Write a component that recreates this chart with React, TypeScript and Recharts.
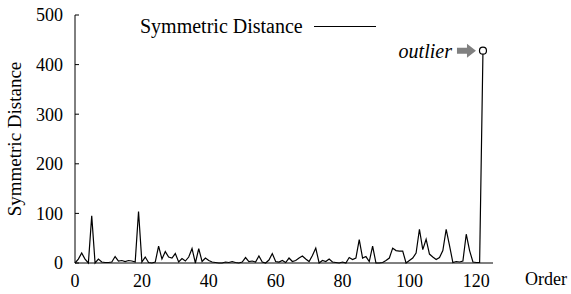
import { LineChart, Line, XAxis, YAxis, Legend } from 'recharts';

// symmetric distance per order
const distances = [
  0, 8, 20, 8, 0, 95, 0, 8, 2, 1,
  1, 2, 13, 4, 5, 3, 5, 4, 2, 104,
  2, 12, 1, 0, 2, 34, 8, 23, 12, 10,
  19, 2, 9, 4, 12, 29, 0, 29, 3, 10,
  5, 2, 1, 0, 0, 2, 1, 3, 1, 0,
  2, 11, 3, 4, 2, 14, 2, 0, 6, 19,
  3, 2, 5, 1, 10, 3, 5, 10, 14, 8,
  3, 15, 30, 0, 5, 3, 8, 2, 1, 0,
  2, 0, 11, 7, 10, 47, 10, 13, 3, 34,
  0, 0, 1, 5, 10, 30, 25, 24, 24, 0,
  5, 10, 20, 68, 27, 48, 18, 12, 7, 11,
  25, 68, 35, 1, 3, 2, 4, 58, 25, 2,
  1, 1, 428,
];
const xTicks = [0, 20, 40, 60, 80, 100, 120];
const yTicks = [0, 100, 200, 300, 400, 500];

const data = distances.map((d, i) => ({ order: i, dist: d }));
const outlierIndex = distances.length - 1;

const font = "'Liberation Serif', 'Times New Roman', serif";

function YTick(props: any) {
  const { x, y, payload } = props;
  return (
    <g>
      <line x1={x + 12} x2={x + 16} y1={y} y2={y} stroke="#000" />
      <text x={x} y={y} dy="0.35em" textAnchor="end" style={{ fontFamily: font, fontSize: 18 }} fill="#000">
        {payload.value}
      </text>
    </g>
  );
}

function OutlierDot(props: any) {
  const { cx, cy, index } = props;
  if (index !== outlierIndex) return <g key={`d-${index}`} />;
  return (
    <g key={`d-${index}`}>
      <text x={cx - 31} y={cy} dy="0.35em" textAnchor="end" style={{ fontFamily: font, fontSize: 20, fontStyle: 'italic' }} fill="#000">
        outlier
      </text>
      <polygon
        points={`${cx - 26},${cy - 3} ${cx - 16},${cy - 3} ${cx - 16},${cy - 7} ${cx - 7},${cy} ${cx - 16},${cy + 7} ${cx - 16},${cy + 3} ${cx - 26},${cy + 3}`}
        fill="#808080"
      />
      <circle cx={cx} cy={cy} r={3.5} fill="#fff" stroke="#000" strokeWidth={1.2} />
    </g>
  );
}

function LegendBox() {
  return (
    <div style={{ display: 'flex', alignItems: 'center', fontFamily: font, fontSize: 20, color: '#000', whiteSpace: 'nowrap' }}>
      <span>Symmetric Distance</span>
      <span style={{ display: 'inline-block', width: 62, borderTop: '1px solid #000', marginLeft: 11 }} />
    </div>
  );
}

export default function App() {
  return (
    <div style={{ position: 'absolute', left: 0, top: 0, background: '#fff', fontFamily: font }}>
      <LineChart width={571} height={294} data={data} margin={{ top: 15, right: 78, left: 0, bottom: 0 }} style={{ fontFamily: font }}>
        <XAxis
          dataKey="order"
          type="number"
          domain={[0, 125]}
          ticks={xTicks}
          height={31}
          tickLine={false}
          tickSize={0}
          tickMargin={11}
          stroke="#000"
          tick={{ fontSize: 18, fill: '#000', style: { fontFamily: font } }}
          label={{ value: 'Order', position: 'right', offset: 32, style: { fontFamily: font, fontSize: 18, fill: '#000', textAnchor: 'start' } }}
        />
        <YAxis
          type="number"
          domain={[0, 500]}
          ticks={yTicks}
          width={75}
          tickSize={0}
          tickMargin={12}
          tickLine={false}
          stroke="#000"
          tick={<YTick />}
          label={{ value: 'Symmetric Distance', angle: -90, position: 'insideLeft', offset: 14, style: { fontFamily: font, fontSize: 19, fill: '#000', textAnchor: 'middle' } }}
        />
        <Legend
          layout="horizontal"
          verticalAlign="middle"
          align="center"
          wrapperStyle={{ top: 15, left: 140, width: 'auto' }}
          content={<LegendBox />}
        />
        <Line
          type="linear"
          dataKey="dist"
          stroke="#000"
          strokeWidth={1.2}
          dot={<OutlierDot />}
          activeDot={false}
          isAnimationActive={false}
        />
      </LineChart>
    </div>
  );
}
